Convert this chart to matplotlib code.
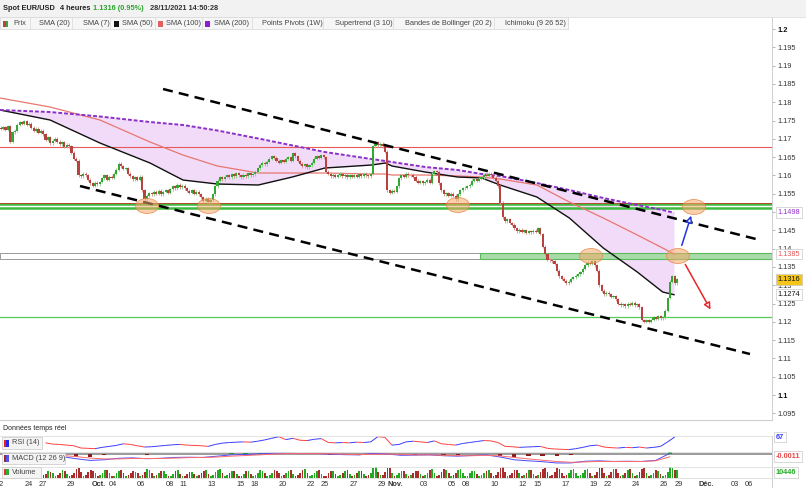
"""EUR/USD 4h chart: candles, SMAs, channel and indicator panels."""

import matplotlib

matplotlib.use("Agg")

import matplotlib.pyplot as plt
import numpy as np
from matplotlib.collections import LineCollection
from matplotlib.patches import Ellipse, FancyArrowPatch, Rectangle

plt.rcParams["font.family"] = ["Liberation Sans", "DejaVu Sans"]

FIG_W, FIG_H = 806, 488

# ---- data ---------------------------------------------------------------
# 4h closes, six per trading day, Mon 22 Sep (day -3) .. Fri 26 Nov (day 44)
FIRST_OPEN = 1.1730
CLOSES = [
    [1.1728, 1.1732, 1.1725, 1.1735, 1.1692, 1.1718],  # 22 sep
    [1.1722, 1.1738, 1.1746, 1.1741, 1.1748, 1.1738],
    [1.1741, 1.1730, 1.1722, 1.1728, 1.1716, 1.1722],
    [1.1712, 1.1698, 1.1705, 1.1688, 1.1695, 1.1700],  # 27 sep
    [1.1692, 1.1685, 1.1690, 1.1678, 1.1684, 1.1680],
    [1.1662, 1.1645, 1.1640, 1.1600, 1.1598, 1.1605],
    [1.1600, 1.1588, 1.1578, 1.1572, 1.1580, 1.1576],
    [1.1582, 1.1592, 1.1600, 1.1588, 1.1597, 1.1594],
    [1.1605, 1.1615, 1.1632, 1.1625, 1.1618, 1.1620],  # 04 oct
    [1.1605, 1.1598, 1.1590, 1.1595, 1.1588, 1.1596],
    [1.1560, 1.1535, 1.1545, 1.1552, 1.1548, 1.1555],
    [1.1550, 1.1558, 1.1548, 1.1555, 1.1560, 1.1553],
    [1.1562, 1.1570, 1.1565, 1.1575, 1.1568, 1.1572],
    [1.1565, 1.1558, 1.1552, 1.1560, 1.1550, 1.1555],  # 11 oct
    [1.1548, 1.1540, 1.1530, 1.1536, 1.1528, 1.1533],
    [1.1548, 1.1570, 1.1585, 1.1595, 1.1590, 1.1596],
    [1.1600, 1.1595, 1.1603, 1.1598, 1.1606, 1.1600],
    [1.1595, 1.1602, 1.1598, 1.1606, 1.1600, 1.1603],
    [1.1610, 1.1620, 1.1628, 1.1635, 1.1630, 1.1638],  # 18 oct
    [1.1645, 1.1652, 1.1648, 1.1640, 1.1635, 1.1642],
    [1.1638, 1.1645, 1.1650, 1.1640, 1.1660, 1.1652],
    [1.1640, 1.1632, 1.1625, 1.1630, 1.1622, 1.1628],
    [1.1635, 1.1645, 1.1652, 1.1648, 1.1655, 1.1650],
    [1.1610, 1.1605, 1.1598, 1.1602, 1.1596, 1.1600],  # 25 oct
    [1.1605, 1.1598, 1.1602, 1.1595, 1.1600, 1.1597],
    [1.1600, 1.1596, 1.1603, 1.1598, 1.1604, 1.1600],
    [1.1598, 1.1605, 1.1680, 1.1690, 1.1682, 1.1686],
    [1.1680, 1.1665, 1.1560, 1.1552, 1.1558, 1.1556],
    [1.1570, 1.1592, 1.1600, 1.1596, 1.1605, 1.1600],  # 01 nov
    [1.1602, 1.1596, 1.1585, 1.1580, 1.1584, 1.1578],
    [1.1582, 1.1588, 1.1580, 1.1605, 1.1612, 1.1610],
    [1.1578, 1.1560, 1.1548, 1.1552, 1.1545, 1.1550],
    [1.1545, 1.1535, 1.1548, 1.1560, 1.1565, 1.1566],
    [1.1570, 1.1575, 1.1585, 1.1590, 1.1586, 1.1591],  # 08 nov
    [1.1595, 1.1602, 1.1598, 1.1604, 1.1600, 1.1594],
    [1.1585, 1.1570, 1.1525, 1.1485, 1.1475, 1.1480],
    [1.1470, 1.1465, 1.1455, 1.1448, 1.1452, 1.1446],
    [1.1450, 1.1444, 1.1448, 1.1445, 1.1449, 1.1446],
    [1.1455, 1.1440, 1.1405, 1.1385, 1.1370, 1.1368],  # 15 nov
    [1.1365, 1.1358, 1.1340, 1.1325, 1.1318, 1.1312],
    [1.1305, 1.1310, 1.1318, 1.1322, 1.1326, 1.1330],
    [1.1335, 1.1345, 1.1355, 1.1362, 1.1358, 1.1365],
    [1.1355, 1.1340, 1.1300, 1.1285, 1.1275, 1.1280],
    [1.1275, 1.1268, 1.1270, 1.1262, 1.1250, 1.1245],  # 22 nov
    [1.1248, 1.1242, 1.1250, 1.1246, 1.1252, 1.1245],
    [1.1248, 1.1240, 1.1205, 1.1200, 1.1205, 1.1200],
    [1.1205, 1.1212, 1.1208, 1.1215, 1.1210, 1.1212],
    [1.1230, 1.1265, 1.1310, 1.1325, 1.1305, 1.1316],
]
FIRST_DAY = -3

# moving averages read at a few dates (trading-day units, 27 sep = 0)
SMA_DAYS = [-2.97, 0.57, 4.1, 7.64, 9.97, 12.4, 15.3, 17.7, 20.0, 23.3, 24.3,
            24.75, 27.1, 29.4, 31.1, 32.4, 35.0, 37.3, 39.7, 42.1, 43.9, 44.7]
SMA50 = [1.17787, 1.17514, 1.16885, 1.16339, 1.15874, 1.15765, 1.15738, 1.15956,
         1.16202, 1.16284, 1.16339, 1.16257, 1.16093, 1.15956, 1.15929, 1.15738,
         1.15410, 1.14836, 1.14016, 1.13361, 1.12814, 1.12740]
SMA100 = [1.18115, 1.17869, 1.17514, 1.16913, 1.16557, 1.16257, 1.16066, 1.16066,
          1.16066, 1.16038, 1.16038, 1.16011, 1.16011, 1.15984, 1.15956, 1.15902,
          1.15738, 1.15273, 1.14836, 1.14372, 1.14016, 1.13850]
SMA200 = [1.17787, 1.17732, 1.17609, 1.17459, 1.17377, 1.17227, 1.17008, 1.16820,
          1.16639, 1.16448, 1.16393, 1.16366, 1.16230, 1.16148, 1.16038, 1.15984,
          1.15792, 1.15601, 1.15383, 1.15191, 1.15055, 1.14980]

# drawn levels
RESISTANCE_RED = 1.1678
SUPPORT_GREEN = [1.1522, 1.1511]
SUPPORT_RED = 1.1525
ZONE = (1.13708, 1.13888)
ZONE_START = 30.98
LOW_GREEN = 1.1214
CHANNEL_UP = ([8.56, 50.78], [1.18361, 1.14235])
CHANNEL_DOWN = ([2.69, 50.07], [1.15710, 1.11120])
CIRCLE_DAYS = [7.43, 11.81, 29.42, 38.83, 44.98, 46.11]
CIRCLE_PRICES = [1.15164, 1.15164, 1.15191, 1.13798, 1.13798, 1.15137]
ARROW_UP = ([45.19, 45.97], [1.14016, 1.14973])
ARROW_DOWN = ([45.40, 47.38], [1.13634, 1.12268])

LAST_PRICE = 1.1316

# RSI(14), two readings per day from 27 sep
RSI = [49, 45, 44, 42, 40, 33, 32, 31, 35, 38, 41, 46, 44, 40, 36, 37, 39, 41,
       43, 44, 42, 41, 40, 38, 44, 48, 50, 51, 52, 51, 54, 58, 63, 68, 59, 63,
       57, 56, 60, 62, 50, 49, 50, 49, 51, 50, 52, 68, 66, 42, 44, 52, 54, 52,
       50, 55, 46, 44, 42, 47, 50, 53, 56, 55, 50, 38, 37, 35, 36, 37, 38, 32,
       30, 29, 28, 31, 35, 40, 42, 36, 34, 33, 35, 34, 36, 33, 35, 38, 52, 67]

# MACD(12 26 9), one reading per day from 27 sep
MACD = [-0.0005, -0.0010, -0.0020, -0.0028, -0.0025, -0.0018, -0.0016, -0.0020,
        -0.0018, -0.0014, -0.0013, -0.0014, -0.0008, -0.0002, 0.0000, 0.0003,
        0.0006, 0.0006, 0.0004, 0.0005, 0.0001, -0.0001, -0.0002, 0.0005, 0.0002,
        -0.0004, -0.0003, -0.0002, -0.0006, -0.0008, -0.0005, -0.0002, -0.0012,
        -0.0025, -0.0030, -0.0034, -0.0040, -0.0040, -0.0032, -0.0030, -0.0033,
        -0.0032, -0.0033, -0.0028, 0.0005]
SIGNAL = [-0.0002, -0.0005, -0.0010, -0.0017, -0.0021, -0.0021, -0.0019, -0.0019,
          -0.0019, -0.0017, -0.0015, -0.0014, -0.0012, -0.0008, -0.0005, -0.0002,
          0.0002, 0.0004, 0.0004, 0.0004, 0.0003, 0.0001, -0.0001, 0.0001, 0.0002,
          0.0000, -0.0002, -0.0002, -0.0004, -0.0006, -0.0006, -0.0004, -0.0007,
          -0.0014, -0.0021, -0.0027, -0.0033, -0.0037, -0.0035, -0.0033, -0.0033,
          -0.0033, -0.0033, -0.0030, -0.0011]

# volume per 4h candle from 27 sep
VOLUME = [
    [3200, 5400, 8900, 7600, 6100, 2800], [3500, 6100, 9800, 8800, 5600, 2500],
    [4100, 6900, 11200, 12500, 7200, 3100], [3800, 7400, 10100, 9300, 6500, 2900],
    [3300, 6200, 9600, 10800, 5900, 2200], [2900, 5800, 8700, 9900, 6400, 2600],
    [3600, 6600, 9300, 8200, 5800, 2700], [4200, 7900, 11800, 10400, 6900, 3000],
    [3400, 6300, 9100, 8600, 5300, 2400], [3100, 5600, 8400, 10600, 4800, 2100],
    [2800, 5100, 7600, 8200, 4600, 2300], [3300, 6400, 9400, 9800, 5500, 2500],
    [3700, 7100, 10500, 11600, 6800, 2900], [3200, 6000, 9000, 8700, 5400, 2400],
    [3000, 5700, 8300, 8900, 5100, 2200], [3400, 6200, 9700, 9400, 5800, 2600],
    [3500, 6500, 10200, 9100, 6100, 2700], [3300, 6100, 9500, 10300, 5700, 2500],
    [3600, 6800, 9900, 10900, 6200, 2800], [3200, 5900, 9200, 9600, 5500, 2300],
    [3100, 5800, 8800, 9000, 5200, 2400], [3400, 6300, 9300, 9700, 5600, 2600],
    [3300, 6100, 9000, 9500, 5400, 2500], [3800, 7000, 12800, 13600, 7400, 3200],
    [4000, 7600, 12100, 12900, 6900, 3000], [3200, 6200, 9400, 9100, 5700, 2500],
    [3300, 6000, 8900, 9300, 5600, 2600], [3600, 6500, 9600, 11800, 6800, 2900],
    [3900, 7200, 11500, 10700, 6300, 2800], [3500, 6800, 10400, 11900, 6600, 2700],
    [3100, 5900, 8800, 9200, 5400, 2400], [3300, 6200, 9300, 9600, 5800, 2500],
    [3700, 7300, 12400, 13800, 7700, 3100], [3600, 6900, 10200, 9700, 6000, 2600],
    [3300, 6400, 9600, 9900, 5700, 2500], [3800, 7400, 11900, 12600, 7100, 3000],
    [4000, 7700, 12300, 11800, 6900, 2900], [3500, 6700, 10100, 10900, 6300, 2700],
    [3600, 6900, 10600, 11200, 6500, 2800], [3900, 7500, 12200, 12800, 7000, 3100],
    [3700, 7100, 11300, 11800, 6700, 2900], [3500, 6800, 10500, 10900, 6400, 2800],
    [3800, 7300, 11700, 12300, 6900, 3000], [3400, 6500, 9800, 8600, 5200, 2400],
    [4100, 8200, 13900, 13200, 9800, 10446],
]

X_TICK_DAYS = [-3, -1, 0, 2, 4, 5, 7, 9, 10, 12, 14, 15, 17, 19, 20, 22, 24, 25,
               27, 29, 30, 32, 34, 35, 37, 39, 40, 42, 44, 45, 47, 49, 50]
X_TICK_LABELS = ["22", "24", "27", "29", "Oct.", "04", "06", "08", "11", "13",
                 "15", "18", "20", "22", "25", "27", "29", "Nov.", "03", "05",
                 "08", "10", "12", "15", "17", "19", "22", "24", "26", "29",
                 "Déc.", "03", "06"]

LEGEND_ITEMS = ["Prix", "SMA (20)", "SMA (7)", "SMA (50)", "SMA (100)", "SMA (200)",
                "Points Pivots (1W)", "Supertrend (3 10)",
                "Bandes de Bollinger (20 2)", "Ichimoku (9 26 52)"]

# ---- style --------------------------------------------------------------
XLIM = (-2.97, 51.63)
UP, DOWN = "#33a633", "#b8423d"
UP_WICK, DOWN_WICK = "#92d492", "#dc9c98"
GRID_C = "#cfcfcf"
TXT = "#333333"
FS = 5.3


def fx(x: float) -> float:
    return x / FIG_W


def fy(y: float) -> float:
    return 1 - y / FIG_H


def px_rect(fig, x0, y0, x1, y1, **kw) -> None:
    fig.add_artist(Rectangle((fx(x0), fy(y1)), (x1 - x0) / FIG_W, (y1 - y0) / FIG_H,
                             transform=fig.transFigure, **kw))


def px_text(fig, x, y, s, **kw) -> None:
    kw.setdefault("fontsize", FS)
    kw.setdefault("color", TXT)
    fig.text(fx(x), fy(y), s, va="center", ha="left", **kw)


def px_line(fig, x0, y0, x1, y1, **kw) -> None:
    fig.add_artist(plt.Line2D([fx(x0), fx(x1)], [fy(y0), fy(y1)], transform=fig.transFigure, **kw))


def add_axes(fig, y_top: float, y_bottom: float):
    ax = fig.add_axes([0, fy(y_bottom), fx(772), (y_bottom - y_top) / FIG_H])
    ax.set_xlim(*XLIM)
    for side in ("left", "top", "bottom"):
        ax.spines[side].set_visible(False)
    ax.spines["right"].set_color(GRID_C)
    ax.spines["right"].set_linewidth(0.7)
    ax.set_xticks([])
    ax.set_yticks([])
    return ax


def draw_price(ax, x, opens, closes) -> None:
    lo = np.minimum(opens, closes)
    hi = np.maximum(opens, closes)
    up = closes >= opens
    ax.vlines(x, lo - 0.0004, hi + 0.0004, colors=np.where(up, UP_WICK, DOWN_WICK),
              linewidth=0.7, zorder=4)
    ax.bar(x, np.maximum(hi - lo, 0.0001), bottom=lo, width=0.15,
           color=np.where(up, UP, DOWN), linewidth=0, zorder=5)


def draw_main(ax, x, opens, closes) -> None:
    ax.set_ylim(1.09317, 1.20301)
    ax.spines["bottom"].set_visible(True)
    ax.spines["bottom"].set_color(GRID_C)

    s50, s100, s200 = np.array(SMA50), np.array(SMA100), np.array(SMA200)
    ax.fill_between(SMA_DAYS, s200, s50, where=s200 >= s50, color="#f1dbf8", lw=0, zorder=1)

    ax.axhline(RESISTANCE_RED, color="#e85a5a", lw=0.8, zorder=2)
    ax.add_patch(Rectangle((XLIM[0], ZONE[0]), XLIM[1] - XLIM[0], ZONE[1] - ZONE[0],
                           fc="white", ec="#9a9a9a", lw=0.7, zorder=2))
    ax.add_patch(Rectangle((ZONE_START, ZONE[0]), XLIM[1] - ZONE_START, ZONE[1] - ZONE[0],
                           fc="#a8dba8", ec="#5cb85c", lw=0.8, zorder=2))
    for level in SUPPORT_GREEN:
        ax.axhline(level, color="#3dbb3d", lw=1.8, zorder=2)
    ax.axhline(SUPPORT_RED, color="#c0392b", lw=0.6, zorder=2)
    ax.axhline(LOW_GREEN, color="#55cc55", lw=0.9, zorder=2)

    ax.plot(SMA_DAYS, s100, color="#e8776f", lw=0.9, zorder=3)
    ax.plot(SMA_DAYS, s50, color="#111111", lw=1.0, zorder=3)
    ax.plot(SMA_DAYS, s200, color="#8b2fc9", lw=1.4, dashes=(2, 1), zorder=3)

    draw_price(ax, x, opens, closes)

    for xs, ys in (CHANNEL_UP, CHANNEL_DOWN):
        ax.plot(xs, ys, color="black", lw=1.8, dashes=(4, 2.5), zorder=6)

    for d, p in zip(CIRCLE_DAYS, CIRCLE_PRICES):
        ax.add_patch(Ellipse((d, p), 1.62, 0.0041, fc=(0.97, 0.66, 0.42, 0.55),
                             ec=(0.91, 0.52, 0.27, 0.8), lw=0.6, zorder=7))

    for (xs, ys), color in ((ARROW_UP, "#2233dd"), (ARROW_DOWN, "#e8262a")):
        ax.add_patch(FancyArrowPatch((xs[0], ys[0]), (xs[1], ys[1]), arrowstyle="-|>",
                                     mutation_scale=10, fc="white", ec=color, lw=1.1, zorder=8))

    # 1.15 sits fully under the SMA (200) tag, so it gets no text
    ticks = np.round(np.arange(1.095, 1.2001, 0.005), 3)
    ax.yaxis.tick_right()
    ax.set_yticks(ticks)
    ax.set_yticklabels(["" if t == 1.15 else f"{t:g}" for t in ticks])
    ax.tick_params(axis="y", length=2.5, width=0.5, color="#999999", labelsize=FS,
                   pad=1.5, labelcolor=TXT)
    for lab, t in zip(ax.get_yticklabels(), ticks):
        if t in (1.1, 1.2):
            lab.set_fontweight("bold")
            lab.set_color("#111111")

    def tag(value, text, color, fc="white"):
        ax.annotate(text, xy=(1, value), xycoords=("axes fraction", "data"),
                    xytext=(4.2, 0), textcoords="offset points", va="center", ha="left",
                    fontsize=FS, color=color, annotation_clip=False, zorder=10,
                    bbox=dict(boxstyle="square,pad=0.25", fc=fc, ec="#c8c8c8", lw=0.5))

    tag(SMA200[-1], f"{SMA200[-1]:.4f}", "#9b30d0")
    tag(SMA100[-1], f"{SMA100[-1]:.4f}", "#e25b5b")
    tag(LAST_PRICE, f"{LAST_PRICE:.4f}", "#111111", fc="#f5c518")
    tag(SMA50[-1], f"{SMA50[-1]:.4f}", "#111111")


def right_tag(ax, value, text, color) -> None:
    ax.annotate(text, xy=(1, value), xycoords=("axes fraction", "data"),
                xytext=(2.5, 0), textcoords="offset points", va="center", ha="left",
                fontsize=FS, color=color, fontweight="bold", annotation_clip=False,
                bbox=dict(boxstyle="square,pad=0.25", fc="white", ec="#c8c8c8", lw=0.5))


def draw_rsi(ax) -> None:
    rsi = np.array(RSI, dtype=float)
    x = np.arange(len(rsi)) * 0.5 + 0.25
    pts = np.column_stack([x, rsi])
    segs = np.stack([pts[:-1], pts[1:]], axis=1)
    colors = np.where(np.diff(rsi) >= 0, "#3b3bff", "#ff4040")
    ax.add_collection(LineCollection(segs, colors=colors, linewidths=0.7))
    ax.set_ylim(20.7, 70.1)
    right_tag(ax, rsi[-1], f"{rsi[-1]:.0f}", "#3b3bff")


def draw_macd(ax) -> None:
    macd, signal = np.array(MACD), np.array(SIGNAL)
    x = np.arange(len(macd)) + 0.4
    hist = macd - signal
    ax.axhline(0, color="#8a8a8a", lw=1.2, zorder=1)
    ax.bar(x, hist, width=0.3, color=np.where(hist >= 0, "#22a022", "#8b1a1a"), lw=0, zorder=2)
    ax.plot(x, macd, color="#4a4aff", lw=0.7, zorder=3)
    ax.plot(x, signal, color="#ff6a6a", lw=0.7, zorder=3)
    ax.set_ylim(-0.0059, 0.00115)
    right_tag(ax, signal[-1], f"{signal[-1]:.4f}", "#e84a4a")


def draw_volume(ax, opens, closes) -> None:
    vol = np.ravel(VOLUME)
    x = np.arange(len(vol)) / 6 + 1 / 12
    up = closes[-len(vol):] >= opens[-len(vol):]
    ax.bar(x, vol, width=0.12, color=np.where(up, "#22aa22", "#aa2d2d"), lw=0)
    ax.set_ylim(0, 14000)
    ax.set_xticks(X_TICK_DAYS)
    ax.set_xticklabels(X_TICK_LABELS)
    ax.tick_params(axis="x", length=0, pad=2.2, labelsize=FS, labelcolor=TXT)
    for lab in ax.get_xticklabels():
        if lab.get_text().endswith("."):
            lab.set_fontweight("bold")
    right_tag(ax, 7000, f"{vol[-1]:.0f}", "#22aa22")


def draw_header(fig) -> None:
    px_rect(fig, 0, 0, FIG_W, 17, fc="#f2f2f2", ec="none", lw=0)
    px_line(fig, 0, 17, FIG_W, 17, color="#dddddd", lw=0.6)
    px_text(fig, 3, 9, "Spot EUR/USD", fontweight="bold", color="#222222")
    px_text(fig, 60, 9, "4 heures", fontweight="bold", color="#222222")
    px_text(fig, 93, 9, "1.1316 (0.95%)", fontweight="bold", color="#2aa52a")
    px_text(fig, 150, 9, "28/11/2021 14:50:28", fontweight="bold", color="#333333")

    px_rect(fig, 0, 17, 568, 29, fc="#f6f6f6", ec="#dddddd", lw=0.6)
    seps = [30, 72, 110, 155, 202, 252, 323, 393, 494, 568]
    text_x = [13, 39, 83, 122, 166, 214, 262, 335, 405, 505]
    for sep in seps:
        px_line(fig, sep, 17, sep, 29, color="#dddddd", lw=0.6)
    for tx, label in zip(text_x, LEGEND_ITEMS):
        px_text(fig, tx, 23.5, label, color="#444444")
    px_rect(fig, 3, 20.5, 5.5, 26.5, fc="#cc3a3a", lw=0)
    px_rect(fig, 5.5, 20.5, 8, 26.5, fc="#33aa33", lw=0)
    for sx, c in ((114, "#111111"), (158, "#e06060"), (205, "#8b1fcf")):
        px_rect(fig, sx, 20.5, sx + 5, 26.5, fc=c, lw=0)


def draw_panel_labels(fig) -> None:
    px_text(fig, 3, 428, "Données temps réel", fontsize=5, color="#222222")
    boxes = [(437, 449, 42, "RSI (14)", ("#e02828", "#2828e0")),
             (452.5, 464, 65, "MACD (12 26 9)", ("#9a2a2a", "#5555dd")),
             (466.5, 477.5, 41, "Volume", ("#cc3a3a", "#33aa33"))]
    for y0, y1, x1, label, (c1, c2) in boxes:
        px_rect(fig, 1.5, y0, x1, y1, fc="#f4f4f4", ec="#c8c8c8", lw=0.5, zorder=5)
        px_rect(fig, 3.5, y0 + 2.5, 6, y1 - 2.5, fc=c1, lw=0, zorder=6)
        px_rect(fig, 6, y0 + 2.5, 8.5, y1 - 2.5, fc=c2, lw=0, zorder=6)
        px_text(fig, 11.5, (y0 + y1) / 2, label, color="#444444", zorder=6)
    for y in (435.5, 452, 466.5, 478):
        px_line(fig, 0, y, 772, y, color="#d8d8d8", lw=0.5)
    px_line(fig, 772, 478, 772, FIG_H, color=GRID_C, lw=0.7)


def main() -> None:
    closes = np.ravel(CLOSES)
    opens = np.concatenate([[FIRST_OPEN], closes[:-1]])
    x = FIRST_DAY + np.arange(len(closes)) / 6 + 1 / 12

    fig = plt.figure(figsize=(FIG_W / 100, FIG_H / 100), dpi=100)
    fig.patch.set_facecolor("white")

    ax_main = add_axes(fig, 18, 420)
    draw_main(ax_main, x, opens, closes)
    draw_rsi(add_axes(fig, 436, 452))
    draw_macd(add_axes(fig, 452, 467))
    draw_volume(add_axes(fig, 467, 478), opens, closes)

    draw_header(fig)
    draw_panel_labels(fig)

    fig.savefig("out.png", dpi=100)
    plt.close(fig)


if __name__ == "__main__":
    main()
